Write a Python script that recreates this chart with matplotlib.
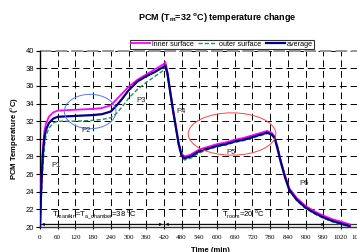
import matplotlib
matplotlib.use("Agg")
import matplotlib.pyplot as plt
from matplotlib.patches import Ellipse

plt.rcParams['font.family'] = ['Liberation Sans', 'DejaVu Sans']
plt.rcParams['mathtext.fontset'] = 'custom'
plt.rcParams['mathtext.rm'] = 'Liberation Sans'
plt.rcParams['mathtext.bf'] = 'Liberation Sans:bold'

# ---- data ----
time = [0, 3, 6, 10, 15, 20, 30, 45, 60, 120, 180, 210, 240, 260, 280, 300, 330, 360, 390, 420, 425,
        432, 450, 470, 480, 490, 510, 540, 570, 600, 630, 660, 690, 720, 750, 770, 785, 795, 805, 815,
        830, 845, 870, 900, 930, 960, 990, 1020, 1050]
inner = [20, 23.8, 26.2, 29.0, 30.9, 31.7, 32.5, 33.0, 33.2, 33.3, 33.4, 33.5, 33.8, 34.5, 35.2, 35.9,
         36.7, 37.3, 37.9, 38.5, 38.7,
         37.6, 33.6, 29.6, 28.3, 28.0, 28.2, 28.8, 29.1, 29.4, 29.6, 29.9, 30.1, 30.4, 30.7, 30.9, 30.7,
         30.3, 29.1, 27.7, 25.9, 24.4, 23.3, 22.4, 21.8, 21.3, 20.9, 20.6, 20.3]
average = [20, 23.2, 25.8, 28.3, 30.2, 31.0, 31.8, 32.3, 32.5, 32.6, 32.7, 32.8, 33.1, 33.8, 34.6, 35.5,
           36.5, 37.1, 37.6, 38.2, 38.3,
           37.4, 33.4, 29.4, 28.1, 27.8, 28.0, 28.6, 28.9, 29.2, 29.4, 29.7, 29.9, 30.2, 30.5, 30.7, 30.5,
           30.1, 28.9, 27.5, 25.7, 24.2, 23.1, 22.2, 21.6, 21.1, 20.7, 20.4, 20.1]
outer = [20, 22.0, 24.5, 27.0, 29.2, 30.3, 31.2, 31.8, 32.0, 32.0, 32.1, 32.2, 32.4, 32.9, 33.7, 34.6,
         35.6, 36.4, 37.1, 37.8, 38.0,
         37.2, 33.3, 29.3, 27.9, 27.6, 27.8, 28.4, 28.8, 29.1, 29.3, 29.6, 29.8, 30.1, 30.4, 30.6, 30.6,
         30.3, 29.2, 27.7, 25.8, 24.2, 23.0, 22.1, 21.5, 21.0, 20.6, 20.3, 20.0]

xticks = list(range(0, 1081, 60))
yticks = list(range(20, 41, 2))
labels = ["P1", "P2", "P3", "P4", "P5", "P6"]
label_t = [40, 141, 328, 463, 633, 879]
label_T = [27.0, 30.9, 34.3, 33.1, 28.5, 24.9]

W, H = 357, 252
fig = plt.figure(figsize=(W / 100, H / 100), dpi=100)
x0, x1 = 40, 358.6
y_top, y_bot = 50.7, 227.0
ax = fig.add_axes([x0 / W, 1 - y_bot / H, (x1 - x0) / W, (y_bot - y_top) / H])

ax.plot(time, inner, color='#FF00FF', lw=1.3, label='inner surface', zorder=3)
ax.plot(time, outer, color='#2E8B57', lw=1.0, ls=(0, (3, 1.5)), label='outer surface', zorder=3)
ax.plot(time, average, color='#000080', lw=1.6, label='average', zorder=4)

ax.set_xlim(0, 1080)
ax.set_ylim(20, 40)
ax.set_xticks(xticks)
ax.set_yticks(yticks)
ax.grid(True, color='black', lw=0.7, ls=(0, (7, 4)), zorder=1)
ax.axhline(40, color='#999999', lw=1.4, ls=(0, (6, 2)), zorder=2, clip_on=False)

for s in ['top', 'right']:
    ax.spines[s].set_visible(False)
ax.spines['left'].set_linewidth(1.0)
ax.spines['bottom'].set_linewidth(1.0)
ax.spines['bottom'].set_color('#333333')

ax.tick_params(axis='y', labelsize=5.5, length=3, width=0.8, pad=1.5)
ax.tick_params(axis='x', labelsize=5, length=3, width=0.8, pad=4, direction='inout')
for lb in ax.get_xticklabels():
    lb.set_fontfamily('Liberation Serif')

ax.set_ylabel('PCM Temperature ($^{\\rm o}$C)', fontsize=5.5, fontweight='bold', labelpad=3)

# ellipses
ax.add_patch(Ellipse((170, 33.1), 175, 3.9, fill=False, ec='#5577EE', lw=0.7, zorder=5))
ax.add_patch(Ellipse((651, 30.55), 297, 4.8, fill=False, ec='#FF4444', lw=0.7, zorder=5))

for lab, t, T in zip(labels, label_t, label_T):
    ax.text(t, T, lab, fontsize=5.5, color='#222222', ha='left', va='center', zorder=6)

# bottom arrows
ax.axhline(20.3, color='#333333', lw=0.9, zorder=2)
ax.annotate('', xy=(5, 20.3), xytext=(415, 20.3),
            arrowprops=dict(arrowstyle='<->', lw=0.6, color='black', mutation_scale=4, shrinkA=0, shrinkB=0))
ax.annotate('', xy=(425, 20.3), xytext=(965, 20.3),
            arrowprops=dict(arrowstyle='<->', lw=0.6, color='black', mutation_scale=4, shrinkA=0, shrinkB=0))
ax.text(40, 21.35, 'T$_{\\rm manikin}$=T$_{\\rm a\\_chamber}$=38 $^{\\rm o}$C', fontsize=5.5,
        ha='left', va='center', zorder=6)
ax.text(616, 21.35, 'T$_{\\rm room}$=20 $^{\\rm o}$C', fontsize=5.5, ha='left', va='center', zorder=6)

fig.text(217 / W, 1 - 17.5 / H, 'PCM (T$_\\mathbf{m}$=32 $^\\mathbf{o}$C) temperature change',
         fontsize=6.5, fontweight='bold', ha='center', va='center')
fig.text(210 / W, 1 - 250 / H, 'Time (min)', fontsize=5.5, fontweight='bold', ha='center', va='center')

leg = fig.legend(loc='center', bbox_to_anchor=(222 / W, 1 - 44.5 / H), ncol=3, fontsize=5.2,
                 frameon=True, fancybox=False, edgecolor='black', handlelength=2.6, handletextpad=0.3,
                 columnspacing=0.6, borderpad=0.2, borderaxespad=0)
leg.get_frame().set_linewidth(0.8)

fig.savefig('out.png', dpi=100)
